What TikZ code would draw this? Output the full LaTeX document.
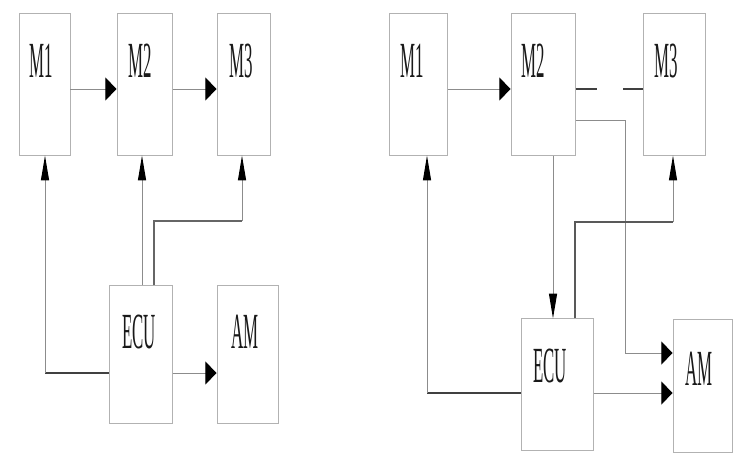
\documentclass[tikz,border=0pt]{standalone}
\usepackage{graphicx}
\usepackage{fontspec}
\setmainfont{Liberation Serif}
\usetikzlibrary{arrows.meta}

\newcommand{\tall}[1]{\scalebox{1}[3]{#1}}

\begin{document}
\begin{tikzpicture}[x=0.025cm, y=-0.025cm,
  box/.style={rectangle, draw=black!30, line width=0.7pt, inner sep=0pt},
  tag/.style={inner sep=0pt, text=black!90, font=\fontsize{12}{12}\selectfont},
  wire/.style={draw=black!45, line width=0.7pt},
  heavy/.style={draw=black!75, line width=1.4pt},
  harr/.style={-{Triangle[length=0.28cm, width=0.58cm, color=black]}},
  varr/.style={-{Triangle[length=0.62cm, width=0.2cm, color=black]}}]

\useasboundingbox (0,0) rectangle (736,454);

\node[box, minimum width=1.275cm, minimum height=3.525cm] (m1) at (44.5,84.5) {};
\node[box, minimum width=1.375cm, minimum height=3.525cm] (m2) at (144.5,84.5) {};
\node[box, minimum width=1.325cm, minimum height=3.525cm] (m3) at (243.5,84.5) {};
\node[box, minimum width=1.575cm, minimum height=3.425cm] (ecu) at (140.5,354.5) {};
\node[box, minimum width=1.525cm, minimum height=3.425cm] (am) at (247.5,354.5) {};

\node[tag] (m1t) at (41,61) {\tall{M1}};
\node[tag] (m2t) at (140,61) {\tall{M2}};
\node[tag] (m3t) at (241,61) {\tall{M3}};
\node[tag] (ecut) at (139,332) {\tall{ECU}};
\node[tag] (amt) at (245,332) {\tall{AM}};

\node[box, minimum width=1.45cm, minimum height=3.525cm] (rm1) at (418,84.5) {};
\node[box, minimum width=1.6cm, minimum height=3.525cm] (rm2) at (543,84.5) {};
\node[box, minimum width=1.55cm, minimum height=3.525cm] (rm3) at (674,84.5) {};
\node[box, minimum width=1.8cm, minimum height=3.275cm] (recu) at (557,384.5) {};
\node[box, minimum width=1.475cm, minimum height=3.3cm] (ram) at (702.5,386) {};

\node[tag] (rm1t) at (412,61) {\tall{M1}};
\node[tag] (rm2t) at (533,61) {\tall{M2}};
\node[tag] (rm3t) at (666,61) {\tall{M3}};
\node[tag] (recut) at (550,366) {\tall{ECU}};
\node[tag] (ramt) at (699,369) {\tall{AM}};

\coordinate (top) at (0,89);
\coordinate (lrow) at (0,373);
\coordinate (lk1) at (45,373);
\coordinate (lk2) at (142,0);
\coordinate (lk3) at (154,221);
\coordinate (lk4) at (242,221);

\draw[wire, harr] (m1.east |- top) -- (m2.west |- top);
\draw[wire, harr] (m2.east |- top) -- (m3.west |- top);
\draw[heavy] (ecu.west |- lrow) -- (lk1);
\draw[wire, varr] (lk1) -- (m1.south -| lk1);
\draw[wire, varr] (ecu.north -| lk2) -- (m2.south -| lk2);
\draw[heavy, black!60] (ecu.north -| lk3) -- (lk3) -- (lk4);
\draw[wire, varr] (lk4) -- (m3.south -| lk4);
\draw[wire, harr] (ecu.east |- lrow) -- (am.west |- lrow);

\coordinate (rrow) at (0,393);
\coordinate (rk1) at (625,120);
\coordinate (rk2) at (625,353);
\coordinate (rk3) at (553,0);
\coordinate (rk4) at (575,222);
\coordinate (rk5) at (673,222);
\coordinate (rk6) at (427,393);

\draw[wire, harr] (rm1.east |- top) -- (rm2.west |- top);
\draw[heavy, dash pattern=on 15.6pt off 18.4pt] (rm2.east |- top) -- (rm3.west |- top);
\draw[wire, harr] (rm2.east |- rk1) -- (rk1) -- (rk2) -- (ram.west |- rk2);
\draw[wire, varr] (rm2.south -| rk3) -- (recu.north -| rk3);
\draw[heavy, black!65] (recu.north -| rk4) -- (rk4) -- (rk5);
\draw[wire, varr] (rk5) -- (rm3.south -| rk5);
\draw[heavy] (recu.west |- rrow) -- (rk6);
\draw[wire, varr] (rk6) -- (rm1.south -| rk6);
\draw[wire, harr] (recu.east |- rrow) -- (ram.west |- rrow);
\end{tikzpicture}
\end{document}
